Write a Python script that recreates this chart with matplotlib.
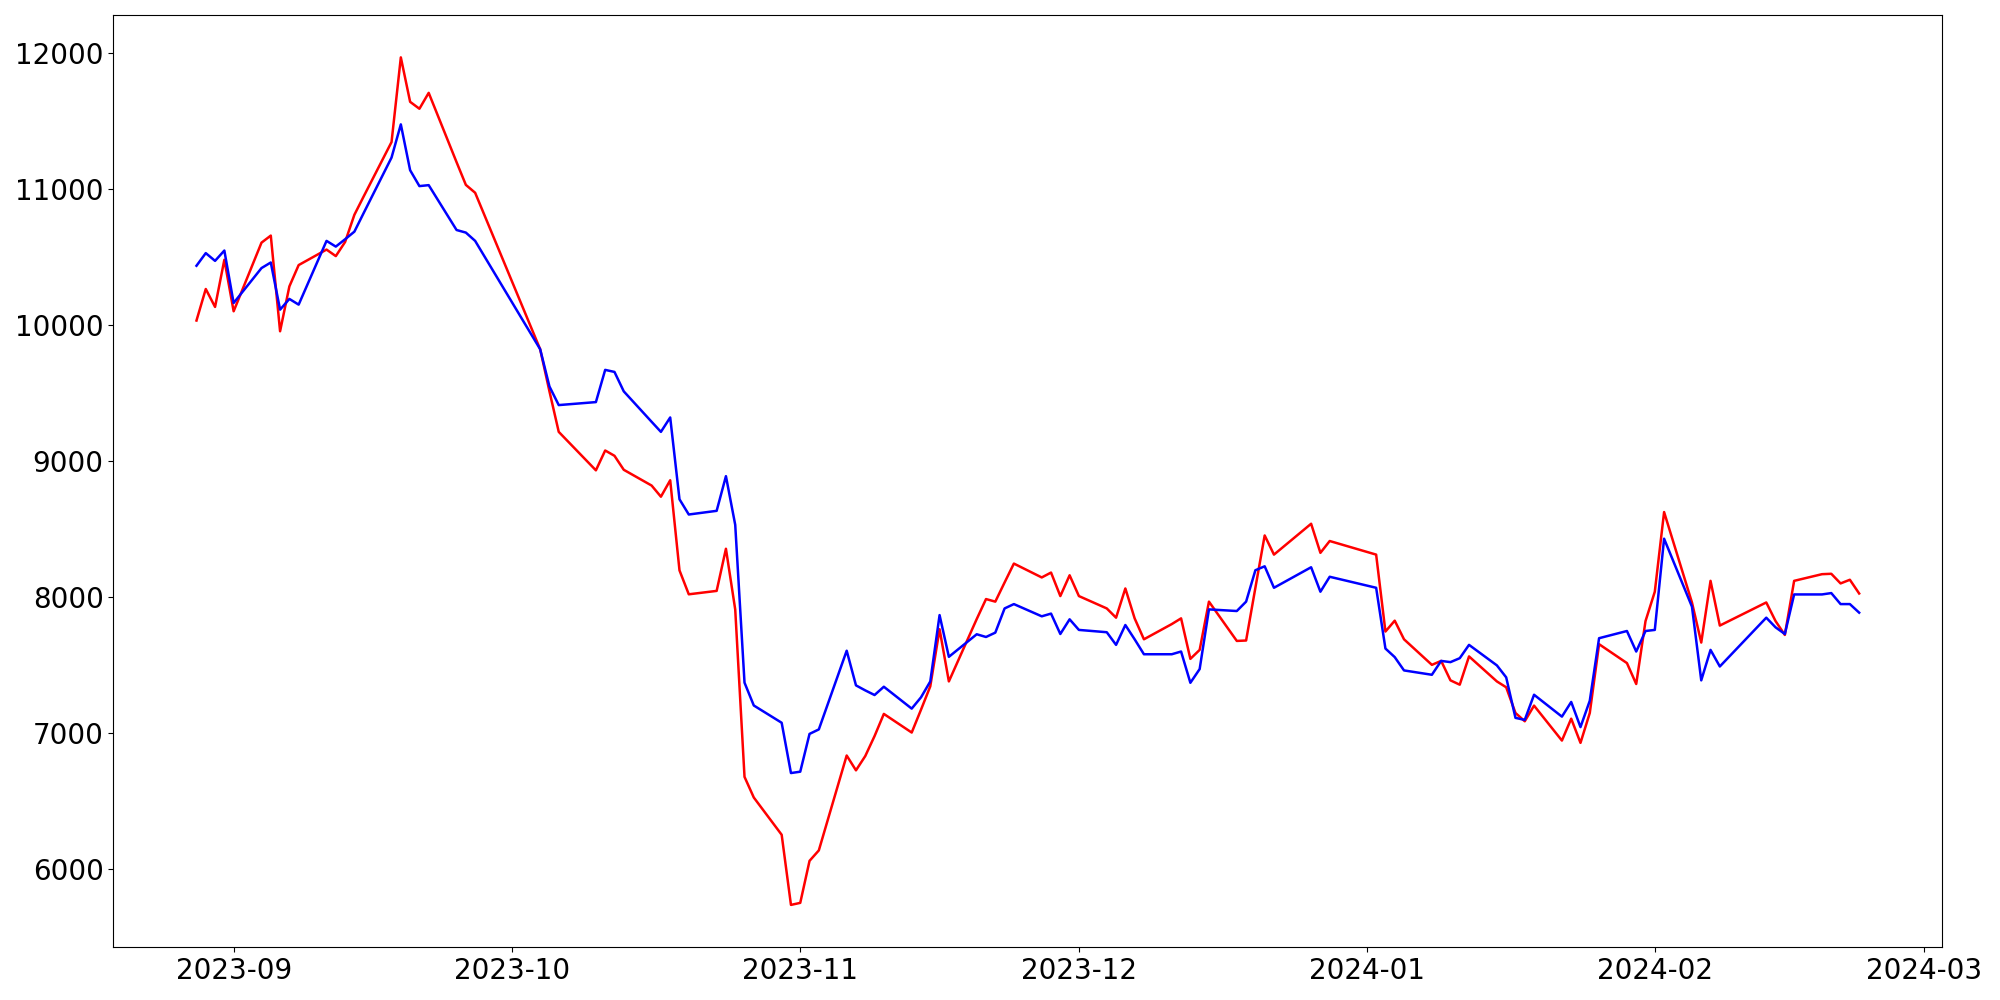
import numpy as np
import pandas as pd
import matplotlib
matplotlib.use("Agg")
import matplotlib.pyplot as plt

# trading days (Korean market, holidays skipped)
dates = pd.to_datetime(
    ["2023-08-28", "2023-08-29", "2023-08-30", "2023-08-31"]
    + ["2023-09-%02d" % d for d in [1, 4, 5, 6, 7, 8, 11, 12, 13, 14, 15, 18, 19, 20, 21, 22, 25, 26, 27]]
    + ["2023-10-%02d" % d for d in [4, 5, 6, 10, 11, 12, 13, 16, 17, 18, 19, 20, 23, 24, 25, 26, 27, 30, 31]]
    + ["2023-11-%02d" % d for d in [1, 2, 3, 6, 7, 8, 9, 10, 13, 14, 15, 16, 17, 20, 21, 22, 23, 24, 27, 28, 29, 30]]
    + ["2023-12-%02d" % d for d in [1, 4, 5, 6, 7, 8, 11, 12, 13, 14, 15, 18, 19, 20, 21, 22, 26, 27, 28]]
    + ["2024-01-%02d" % d for d in [2, 3, 4, 5, 8, 9, 10, 11, 12, 15, 16, 17, 18, 19, 22, 23, 24, 25, 26, 29, 30, 31]]
    + ["2024-02-%02d" % d for d in [1, 2, 5, 6, 7, 8, 13, 14, 15, 16, 19, 20, 21, 22, 23]]
)

red_values = [
    10034, 10266, 10134, 10481,
    10102, 10607, 10659, 9955, 10285, 10442, 10556, 10508, 10612, 10812, 10947,
    11347, 11970, 11643, 11592, 11709, 11199, 11032, 10974,
    9823, 9513, 9215, 8932, 9078, 9039, 8936, 8820, 8738, 8859, 8196, 8020,
    8045, 8355, 7908, 6677, 6525, 6251, 5735,
    5750, 6059, 6136, 6834, 6725, 6830, 6977, 7140, 7003, 7171, 7343, 7763, 7379,
    7838, 7985, 7966, 8107, 8246, 8144, 8180, 8007, 8160,
    8007, 7916, 7848, 8063, 7843, 7689, 7801, 7843, 7545, 7611, 7966,
    7677, 7680, 8068, 8453, 8312, 8539, 8325, 8412,
    8312, 7746, 7826, 7689, 7501, 7530, 7387, 7355, 7563, 7379, 7336, 7147, 7086, 7201,
    6944, 7105, 6927, 7147, 7653, 7514, 7360, 7823,
    8039, 8625, 7960, 7665, 8119, 7790, 7960, 7823, 7721, 8119, 8168, 8171, 8100, 8127, 8026,
]

blue_values = [
    10437, 10530, 10473, 10549,
    10163, 10420, 10461, 10114, 10193, 10151, 10620, 10578, 10632, 10688, 10825,
    11233, 11477, 11140, 11023, 11030, 10700, 10681, 10620,
    9823, 9549, 9412, 9434, 9671, 9656, 9513, 9289, 9215, 9321, 8719, 8607,
    8634, 8889, 8531, 7370, 7202, 7075, 6705,
    6715, 6993, 7026, 7605, 7350, 7313, 7279, 7340, 7179, 7262, 7379, 7867, 7560,
    7726, 7706, 7738, 7916, 7948, 7858, 7878, 7728, 7836,
    7758, 7741, 7648, 7794, 7689, 7579, 7579, 7599, 7369, 7470, 7909,
    7897, 7966, 8197, 8226, 8068, 8219, 8039, 8149,
    8068, 7621, 7558, 7460, 7428, 7530, 7521, 7550, 7648, 7497, 7409, 7111, 7096, 7281,
    7120, 7228, 7043, 7237, 7697, 7750, 7599, 7750,
    7758, 8429, 7929, 7387, 7611, 7489, 7848, 7777, 7728, 8019, 8019, 8029, 7948, 7948, 7885,
]

fig, ax = plt.subplots(figsize=(20, 10))
ax.plot(dates, red_values, color='red', linewidth=1.8)
ax.plot(dates, blue_values, color='blue', linewidth=1.8)
ax.tick_params(labelsize=20)
plt.tight_layout()
plt.savefig("out.png", dpi=100)
